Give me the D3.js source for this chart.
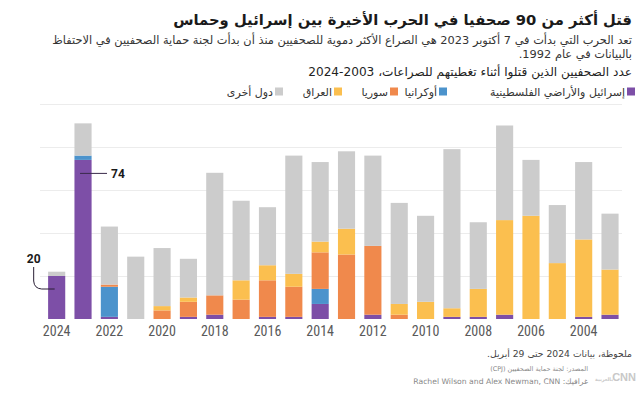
<!DOCTYPE html>
<html lang="ar">
<head>
<meta charset="utf-8">
<script src="https://cdn.jsdelivr.net/npm/d3@7"></script>
<style>
  html, body { margin: 0; padding: 0; background: #fff; }
  svg { display: block; }
  .ar { font-family: "DejaVu Sans", "Noto Sans", sans-serif; }
</style>
</head>
<body>
<svg id="chart" width="640" height="398"></svg>
<script>
// ---------- DATA ----------
const years = [2024, 2023, 2022, 2021, 2020, 2019, 2018, 2017, 2016, 2015, 2014, 2013, 2012, 2011, 2010, 2009, 2008, 2007, 2006, 2005, 2004, 2003];
const palestine = [20, 74, 1, 0, 0, 1, 2, 0, 1, 1, 7, 0, 2, 0, 0, 1, 1, 2, 0, 0, 1, 2];
const ukraine   = [0, 2, 14, 0, 0, 0, 0, 0, 0, 0, 7, 0, 0, 0, 0, 0, 0, 0, 0, 0, 0, 0];
const syria     = [0, 0, 1, 0, 4, 7, 9, 9, 17, 14, 17, 30, 32, 2, 0, 0, 0, 0, 0, 0, 0, 0];
const iraq      = [0, 0, 0, 0, 2, 2, 0, 9, 7, 6, 5, 12, 0, 5, 8, 4, 13, 44, 48, 26, 36, 21];
const other     = [2, 15, 27, 29, 27, 18, 57, 37, 27, 55, 37, 36, 42, 47, 40, 74, 31, 44, 26, 27, 36, 26];
const tickYears = [2024, 2022, 2020, 2018, 2016, 2014, 2012, 2010, 2008, 2006, 2004];
const gridValues = [20, 40, 60, 80, 100];
const seriesKeys = ["palestine", "ukraine", "syria", "iraq", "other"];
const seriesLabels = ["إسرائيل والأراضي الفلسطينية", "أوكرانيا", "سوريا", "العراق", "دول أخرى"];
const seriesColors = ["#7d4fa7", "#4c93cc", "#f0894c", "#fbbf4f", "#cccccc"];
const annotations = [{ year: 2023, value: 74, label: "74" }, { year: 2024, value: 20, label: "20" }];

const titleText = "قتل أكثر من 90 صحفيا في الحرب الأخيرة بين إسرائيل وحماس";
const subLine1 = "تعد الحرب التي بدأت في 7 أكتوبر 2023 هي الصراع الأكثر دموية للصحفيين منذ أن بدأت لجنة حماية الصحفيين في الاحتفاظ";
const subLine2 = "بالبيانات في عام 1992.";
const chartTitle = "عدد الصحفيين الذين قتلوا أثناء تغطيتهم للصراعات، 2003-2024";
const noteText = "ملحوظة، بيانات 2024 حتى 29 أبريل.";
const sourceText = "المصدر: لجنة حماية الصحفيين (CPJ)";
const creditText = "غرافيك: Rachel Wilson and Alex Newman, CNN";
const logoLatin = "CNN";
const logoArabic = "بالعربية";

// ---------- BUILD ----------
const rows = years.map((y, i) => ({
  year: y, palestine: palestine[i], ukraine: ukraine[i], syria: syria[i], iraq: iraq[i], other: other[i]
}));
const svg = d3.select("#chart");

const x = d3.scaleBand().domain(years).range([43.5, 623.2]).paddingInner(0.35).paddingOuter(0.175);
const y = d3.scaleLinear().domain([0, 100]).range([319, 104]);
const color = d3.scaleOrdinal().domain(seriesKeys).range(seriesColors);

function fit(sel, target) {
  const w = sel.node().getComputedTextLength();
  const fs = parseFloat(sel.attr("font-size"));
  if (w > 0) sel.attr("font-size", (fs * target / w).toFixed(2));
  return sel;
}
function rtlText(xR, yB, txt, size, weight, fill) {
  return svg.append("text").attr("class", "ar")
    .attr("x", xR).attr("y", yB)
    .attr("direction", "rtl").attr("text-anchor", "start")
    .attr("font-size", size).attr("font-weight", weight).attr("fill", fill)
    .text(txt);
}

// Titles
fit(rtlText(632, 25, titleText, 17, "bold", "#1a1a1a"), 459);
const s1 = fit(rtlText(632, 44, subLine1, 12, "normal", "#333"), 580);
rtlText(632, 58, subLine2, s1.attr("font-size"), "normal", "#333");
fit(rtlText(632, 76, chartTitle, 13, "normal", "#222"), 324);

// Legend
const legendRight = [635, 447, 398, 342, 283];
seriesKeys.forEach((k, i) => {
  svg.append("rect").attr("x", legendRight[i] - 8).attr("y", 87.5).attr("width", 8).attr("height", 8)
    .attr("fill", color(k));
  rtlText(legendRight[i] - 10, 95.5, seriesLabels[i], 11, "normal", "#333");
});

// Gridlines
svg.append("g").selectAll("line").data(gridValues).join("line")
  .attr("x1", 40).attr("x2", 622)
  .attr("y1", d => y(d) + 0.5).attr("y2", d => y(d) + 0.5)
  .attr("stroke", "#ececec").attr("stroke-width", 1);

// Bars
const stacked = d3.stack().keys(seriesKeys)(rows);
svg.append("g").selectAll("g").data(stacked).join("g")
  .attr("fill", d => color(d.key))
  .selectAll("rect").data(d => d).join("rect")
  .attr("x", d => x(d.data.year))
  .attr("width", x.bandwidth())
  .attr("y", d => y(d[1]))
  .attr("height", d => Math.max(0, y(d[0]) - y(d[1])));

// X axis
const xAxis = d3.axisBottom(x).tickValues(tickYears).tickSize(0).tickPadding(0);
const gx = svg.append("g").attr("transform", "translate(0,319)").call(xAxis);
gx.select(".domain").remove();
gx.selectAll("text")
  .attr("y", 17).attr("dy", 0)
  .attr("font-family", "'Liberation Sans Narrow', 'Roboto Condensed', 'Liberation Sans', sans-serif")
  .attr("font-size", 14).attr("fill", "#5a5a5a");

// Annotations
const a74 = annotations[0];
const ax74 = x(a74.year) + x.bandwidth() / 2;
svg.append("line").attr("x1", ax74 - 3).attr("x2", ax74 + 24)
  .attr("y1", y(a74.value) + 13.5).attr("y2", y(a74.value) + 13.5)
  .attr("stroke", "#3a2a4a").attr("stroke-width", 1);
svg.append("text").attr("x", ax74 + 28).attr("y", y(a74.value) + 18)
  .attr("font-family", "Roboto, 'Liberation Sans', sans-serif").attr("font-weight", "bold")
  .attr("font-size", 12).attr("fill", "#1a1a1a").text(a74.label);

const a20 = annotations[1];
const ax20 = x(a20.year) + x.bandwidth() / 2;
const ay20 = y(a20.value);
svg.append("path")
  .attr("d", `M${ax20 - 23},${ay20 - 9} V${ay20 + 5} Q${ax20 - 22.5},${ay20 + 12.5} ${ax20 - 15},${ay20 + 13} H${ax20 - 2}`)
  .attr("fill", "none").attr("stroke", "#2a1f35").attr("stroke-width", 1);
svg.append("text").attr("x", ax20 - 23).attr("y", ay20 - 13).attr("text-anchor", "middle")
  .attr("font-family", "Roboto, 'Liberation Sans', sans-serif").attr("font-weight", "bold")
  .attr("font-size", 12).attr("fill", "#1a1a1a").text(a20.label);

// Footer
fit(rtlText(632, 357, noteText, 11, "normal", "#444"), 145);
fit(rtlText(588, 371, sourceText, 8, "normal", "#888"), 98);
fit(rtlText(588, 384, creditText, 8, "normal", "#888"), 175);
// Logo
svg.append("text").attr("x", 636).attr("y", 381).attr("text-anchor", "end")
  .attr("font-family", "'Liberation Sans', sans-serif").attr("font-weight", "bold")
  .attr("font-size", 11).attr("fill", "#c8c8c8").text(logoLatin);
fit(rtlText(613, 381, logoArabic, 9, "bold", "#c8c8c8"), 18);
</script>
</body>
</html>
